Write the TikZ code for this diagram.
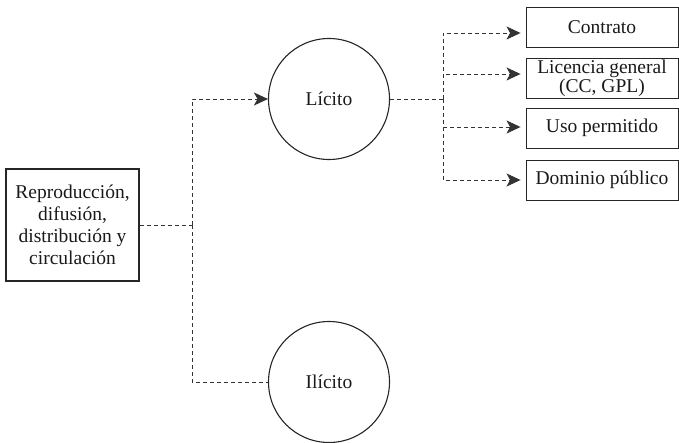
\documentclass[tikz,border=0pt]{standalone}
\usepackage{fontspec}
\setmainfont{Liberation Serif}
\usetikzlibrary{arrows.meta}
\begin{document}
\begin{tikzpicture}[
  every node/.style={font=\fontsize{19.5}{22}\selectfont, text=black!90},
  mainbox/.style={draw=black!85, line width=2.6pt, minimum width=133pt, minimum height=112pt, align=center, inner sep=0pt},
  circ/.style={draw=black!85, line width=1.1pt, circle, minimum size=121pt, inner sep=0pt},
  optbox/.style={draw=black!85, line width=0.9pt, minimum width=152pt, minimum height=40pt, align=center, inner sep=0pt},
  conn/.style={draw=black!80, line width=0.9pt, dash pattern=on 4pt off 3pt},
  arr/.style={conn, -{Stealth[length=14pt,width=13pt,inset=3.5pt]}}
]
\useasboundingbox (0pt,0pt) rectangle (679pt,-443pt);
\node[mainbox] (src) at (72.5pt,-225pt) {Reproducción,\\difusión,\\distribución y\\circulación};
\node[circ] (lic) at (329pt,-99pt) {Lícito};
\node[circ] (ilic) at (329pt,-382pt) {Ilícito};
\node[optbox] (b1) at (602pt,-27.5pt) {Contrato};
\node[optbox, font=\fontsize{19.5}{13}\selectfont] (b2) at (602pt,-78pt) {Licencia general\\(CC, GPL)};
\node[optbox] (b3) at (602pt,-128pt) {Uso permitido};
\node[optbox] (b4) at (602pt,-180pt) {Dominio público};
\coordinate (j1) at (192pt,-225pt);
\coordinate (j2) at (443pt,-99pt);
\draw[conn] (src.east) -- (j1);
\draw[arr] (j1) |- (lic.west);
\draw[conn] (j1) |- (ilic.west);
\draw[conn] (lic.east) -- (j2);
\draw[arr, shorten >=5pt] (j2) |- ([yshift=-5.5pt]b1.west);
\draw[arr, shorten >=5pt] (j2) |- ([yshift=4pt]b2.west);
\draw[arr, shorten >=5pt] (j2) |- ([yshift=1pt]b3.west);
\draw[arr, shorten >=5pt] (j2) |- (b4.west);
\end{tikzpicture}
\end{document}
